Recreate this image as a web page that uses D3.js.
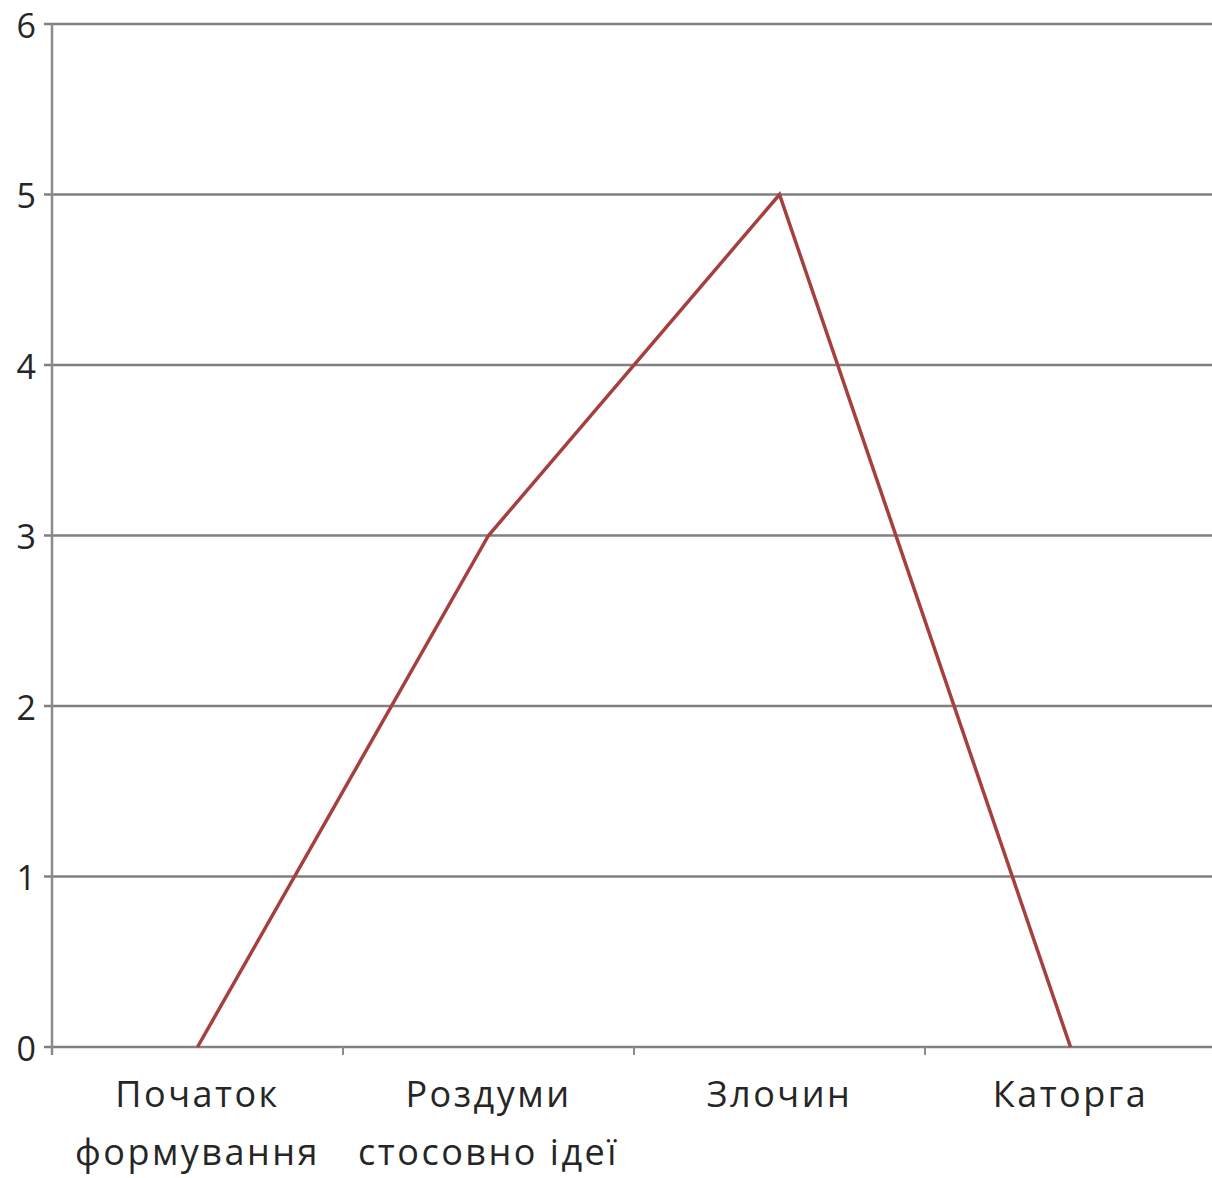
<!DOCTYPE html>
<html>
<head>
<meta charset="utf-8">
<script src="https://cdn.jsdelivr.net/npm/d3@7"></script>
<style>
  body { margin: 0; background: #fff; }
  text { font-family: "Open Sans", "DejaVu Sans", sans-serif; fill: #262626; }
</style>
</head>
<body>
<svg id="chart" width="1212" height="1178"></svg>
<script>
const categories = [['Початок', 'формування'], ['Роздуми', 'стосовно ідеї'], ['Злочин'], ['Каторга']]
const values = [0, 3, 5, 0]
const yTicks = [0, 1, 2, 3, 4, 5, 6]

const margin = { top: 24, left: 52, bottom: 1047 }
const step = 291

const svg = d3.select('#chart')

const x = d3.scaleBand()
  .domain(d3.range(categories.length))
  .range([margin.left, margin.left + step * categories.length])

const y = d3.scaleLinear().domain([0, 6]).range([margin.bottom, margin.top])

// horizontal gridlines
svg.append('g')
  .selectAll('line')
  .data(yTicks)
  .enter()
  .append('line')
  .attr('x1', margin.left - 8)
  .attr('x2', 1212)
  .attr('y1', d => y(d))
  .attr('y2', d => y(d))
  .attr('stroke', '#808080')
  .attr('stroke-width', 2.4)

// y axis line
svg.append('line')
  .attr('x1', margin.left).attr('x2', margin.left)
  .attr('y1', y(6)).attr('y2', y(0) + 8)
  .attr('stroke', '#8c8c8c')
  .attr('stroke-width', 2.5)

// y labels
svg.append('g')
  .selectAll('text')
  .data(yTicks)
  .enter()
  .append('text')
  .attr('x', 36)
  .attr('y', d => y(d))
  .attr('dy', '0.4em')
  .attr('text-anchor', 'end')
  .attr('font-size', 34)
  .text(d => d)

// x ticks
svg.append('g')
  .selectAll('line')
  .data(d3.range(1, categories.length))
  .enter()
  .append('line')
  .attr('x1', d => margin.left + step * d)
  .attr('x2', d => margin.left + step * d)
  .attr('y1', y(0))
  .attr('y2', y(0) + 8)
  .attr('stroke', '#8c8c8c')
  .attr('stroke-width', 2)

// x labels
const labels = svg.append('g')
  .selectAll('text')
  .data(categories)
  .enter()
  .append('text')
  .attr('x', (_, i) => x(i) + x.bandwidth() / 2)
  .attr('y', 1107)
  .attr('text-anchor', 'middle')
  .attr('font-size', 36)
  .attr('letter-spacing', 2.5)

labels.selectAll('tspan')
  .data(d => d)
  .enter()
  .append('tspan')
  .attr('x', function () { return d3.select(this.parentNode).attr('x') })
  .attr('dy', (_, i) => i === 0 ? 0 : 58)
  .text(d => d)

// the line
const line = d3.line()
  .x((_, i) => x(i) + x.bandwidth() / 2)
  .y(d => y(d))

svg.append('path')
  .datum(values)
  .attr('d', line)
  .attr('fill', 'none')
  .attr('stroke', '#a5403f')
  .attr('stroke-width', 3.5)
  .attr('stroke-linejoin', 'miter')
</script>
</body>
</html>
